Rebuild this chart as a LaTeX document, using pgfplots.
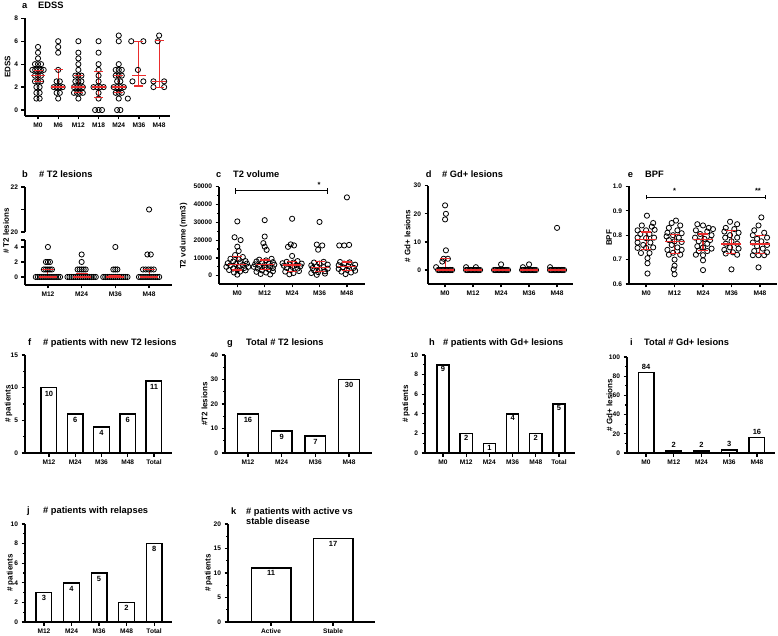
\documentclass[border=0pt]{standalone}
\usepackage{fontspec}
\setmainfont{Liberation Sans}
\usepackage{pgfplots}
\pgfplotsset{compat=1.18}
\definecolor{gpred}{RGB}{235,45,45}
\newcommand\tickf{\fontsize{6.6}{8}\selectfont\bfseries}
\newcommand\labf{\fontsize{8}{9}\selectfont\bfseries}
\newcommand\titf{\fontsize{9.3}{11}\selectfont\bfseries}
\newcommand\numf{\fontsize{7.5}{8}\selectfont\bfseries}
\pgfplotsset{
 gp/.style={scale only axis, axis x line*=bottom, axis y line*=left,
  axis line style={line width=1.4pt},
  tick style={line width=1.2pt, black}, tick align=outside,
  major tick length=3.5pt, minor tick length=2pt,
  tick label style={font=\tickf},
  /pgf/number format/assume math mode=true, /pgf/number format/1000 sep={},
  clip=false, anchor=south west},
 pts/.style={only marks, mark=o, mark size=2.6pt, mark options={line width=0.8pt, draw=black}},
 med/.style={only marks, mark=-, mark size=#1, mark options={line width=1.3pt, draw=gpred},
  error bars/.cd, y dir=both, y explicit, error mark=none,
  error bar style={line width=1.1pt, draw=gpred}},
 caps/.style={only marks, mark=-, mark size=#1, mark options={line width=1.1pt, draw=gpred}},
 bars/.style={gp, ybar, bar shift=0pt, ymin=0, minor y tick num=1, nodes near coords,
  every node near coord/.append style={font=\numf, yshift=-12.5pt}},
 bar/.style={fill=white, draw=black, line width=1.4pt},
}
\begin{document}
\begin{tikzpicture}
\path[use as bounding box] (0pt,0pt) rectangle (778pt,635pt);

% ---------------- a EDSS
\begin{axis}[gp, at={(25pt,519pt)}, width=145pt, height=97.7pt,
  xmin=-0.645, xmax=6.54, ymin=-0.52, ymax=8, ytick={0,2,4,6,8},
  xtick={0,1,2,3,4,5,6}, xticklabels={M0,M6,M12,M18,M24,M36,M48}]
\addplot[pts] coordinates {
 (0,5.5)(0,5)(0,4.5)(-0.15,4)(0,4)(0.15,4)(-0.28,3.5)(-0.14,3.5)(0,3.5)(0.14,3.5)(0.28,3.5)
 (-0.15,3)(0,3)(0.15,3)(-0.15,2.5)(0,2.5)(0.15,2.5)(-0.08,2)(0.08,2)(-0.08,1.5)(0.08,1.5)
 (-0.08,1)(0.08,1)
 (1,6)(1,5.5)(1,5)(1,3.5)(0.92,2.5)(1.08,2.5)(0.78,2)(0.93,2)(1.07,2)(1.22,2)
 (0.92,1.5)(1.08,1.5)(1,1)
 (2,6)(2,5)(2,4.5)(2,4)(2,3.5)(1.85,3)(2,3)(2.15,3)(1.85,2.5)(2,2.5)(2.15,2.5)
 (1.78,2)(1.93,2)(2.07,2)(2.22,2)(1.78,1.5)(1.93,1.5)(2.07,1.5)(2.22,1.5)(2,1)
 (3,6)(3,5)(3,4)(3,3.5)(3,3)(3,2.5)(2.75,2)(2.92,2)(3.08,2)(3.25,2)(3,1.5)(3,1)
 (2.83,0)(3,0)(3.17,0)
 (4,6.5)(4,6)(4,4)(3.85,3.5)(4,3.5)(4.15,3.5)(3.85,3)(4,3)(4.15,3)(3.92,2.5)(4.08,2.5)
 (3.75,2)(3.92,2)(4.08,2)(4.25,2)(3.85,1.5)(4,1.5)(4.15,1.5)(4,1)(3.92,0)(4.08,0)
 (4.62,6)(5.22,6)(4.95,3.5)(4.68,2.5)(5.22,2.5)(4.45,1)
 (6,6.5)(5.93,6)(5.72,2.5)(6.25,2.5)(5.72,2)(6.25,2)
};
\addplot[med=7pt] coordinates {
 (0,3) += (0,0.48) -= (0,0.54)
 (1,2) += (0,1.5) -= (0,0)
 (2,2) += (0,1) -= (0,0.5)
 (3,2) += (0,1.35) -= (0,0.9)
 (4,2) += (0,1) -= (0,0.5)
 (5,3) += (0,3) -= (0,0.9)
 (6,2.5) += (0,3.6) -= (0,0.5)
};
\addplot[caps=4.5pt] coordinates {(0,2.46)(0,3.48)(1,2)(1,3.5)(2,1.5)(2,3)(3,1.1)(3,3.35)
 (4,1.5)(4,3)(5,2.1)(5,6)(6,2)(6,6.1)};
\end{axis}

% ---------------- b upper
\begin{axis}[gp, axis x line=none, at={(25pt,403pt)}, width=147pt, height=45pt,
  xmin=-0.68, xmax=3.68, ymin=20, ymax=22, ytick={20,21,22}, yticklabels={20,,22}]
\addplot[pts] coordinates {(3,21)};
\end{axis}
% ---------------- b lower
\begin{axis}[gp, at={(25pt,350pt)}, width=147pt, height=45pt,
  xmin=-0.68, xmax=3.68, ymin=-1.07, ymax=4.93, ytick={0,2,4},
  extra y ticks={4.93}, extra y tick labels={},
  xtick={0,1,2,3}, xticklabels={M12,M24,M36,M48}]
\addplot[pts] coordinates {
 (-0.36,0)(-0.3,0)(-0.24,0)(-0.18,0)(-0.12,0)(-0.06,0)(0,0)(0.06,0)(0.12,0)(0.18,0)(0.24,0)(0.3,0)(0.36,0)
 (0.58,0)(0.64,0)(0.7,0)(0.76,0)(0.82,0)(0.88,0)(0.94,0)(1.0,0)(1.06,0)(1.12,0)(1.18,0)(1.24,0)(1.3,0)(1.36,0)(1.42,0)
 (1.64,0)(1.7,0)(1.76,0)(1.82,0)(1.88,0)(1.94,0)(2.0,0)(2.06,0)(2.12,0)(2.18,0)(2.24,0)(2.3,0)(2.36,0)
 (2.7,0)(2.76,0)(2.82,0)(2.88,0)(2.94,0)(3.0,0)(3.06,0)(3.12,0)(3.18,0)(3.24,0)(3.3,0)
 (-0.12,1)(-0.06,1)(0,1)(0.06,1)(0.12,1)(0.88,1)(0.94,1)(1,1)(1.06,1)(1.12,1)
 (1.94,1)(2,1)(2.06,1)(2.82,1)(2.9,1)(2.98,1)(3.06,1)(3.14,1)
 (-0.06,2)(0,2)(0.06,2)(1,2)(1,3)(2.95,3)(3.05,3)(0,4)(2,4)
};
\addplot[med=9pt] coordinates {
 (0,0) += (0,1) -= (0,0)
 (1,0) += (0,0.5) -= (0,0)
 (2,0) += (0,0.25) -= (0,0)
 (3,0) += (0,1) -= (0,0)
};
\addplot[caps=6pt] coordinates {(0,1)(1,0.5)(2,0.25)(3,1)};
\end{axis}

% ---------------- c T2 volume
\begin{axis}[gp, at={(219pt,351pt)}, width=146pt, height=97.3pt,
  xmin=-0.668, xmax=4.66, ymin=-4660, ymax=50000,
  ytick={0,10000,20000,30000,40000,50000}, minor y tick num=1,
  scaled y ticks=false,
  xtick={0,1,2,3,4}, xticklabels={M0,M12,M24,M36,M48}]
\addplot[pts] coordinates {
 (0.0,30500)(-0.1,21600)(0.12,20000)(0.0,16300)(0.05,13900)(-0.08,11600)
 (0.2,10500)(-0.25,9500)(0.05,9200)(0.3,8200)(-0.15,8000)(0.1,7500)(-0.35,7000)(0.35,6800)
 (-0.05,6600)(0.2,6000)(-0.25,5800)(0.05,5200)(-0.4,5000)(0.4,5000)(0.25,4300)(-0.15,4000)
 (0.0,3500)(-0.3,3200)(0.3,3000)(0.1,2300)(-0.12,1800)(0.0,600)
 (1.0,31200)(1.0,22000)(0.95,18300)(1.0,16300)(1.07,14500)
 (1.25,9500)(0.8,9000)(1.05,8600)(0.7,8000)(1.3,7600)(0.9,7200)(1.15,6800)(0.65,6400)
 (1.35,6200)(1.0,6000)(0.8,5600)(1.2,5300)(0.6,5000)(1.0,4600)(1.3,4300)(0.75,4000)
 (1.15,3500)(0.9,3000)(1.3,2500)(0.7,2200)(1.05,1800)(0.85,1000)(1.2,700)
 (2.0,32000)(1.95,17600)(2.07,17000)(1.85,16200)(2.0,11100)
 (2.2,8200)(1.8,7800)(2.05,7400)(1.65,7000)(2.35,6800)(1.9,6400)(2.15,6000)(1.7,5600)
 (2.3,5300)(2.0,5000)(1.8,4400)(2.2,4000)(1.95,3200)(2.25,2600)(1.75,2300)(2.05,1500)(1.9,800)
 (3.0,30200)(2.9,17500)(3.1,17000)(2.95,14600)
 (3.15,7800)(2.8,7400)(3.0,6800)(3.3,6200)(2.7,5800)(2.9,5200)(3.15,4800)(2.75,4300)
 (3.3,4000)(3.0,3500)(2.8,3000)(3.2,2500)(2.95,2000)(2.7,1500)(3.2,1200)(2.9,500)
 (4.0,44000)(3.72,17000)(3.9,17000)(4.08,17300)
 (3.75,7700)(4.1,7500)(3.9,6800)(4.3,6200)(3.7,5900)(4.05,5300)(3.85,4800)(4.25,4400)
 (3.7,3800)(4.0,3300)(4.3,2800)(3.8,2300)(4.15,1800)(3.95,900)
};
\addplot[med=9pt] coordinates {
 (0,6400) += (0,4300) -= (0,3200)
 (1,6400) += (0,2400) -= (0,2800)
 (2,6000) += (0,2000) -= (0,3400)
 (3,4700) += (0,3200) -= (0,2450)
 (4,5000) += (0,2700) -= (0,2200)
};
\addplot[caps=5pt] coordinates {(0,3200)(0,10700)(1,3600)(1,8800)(2,2600)(2,8000)
 (3,2250)(3,7900)(4,2800)(4,7700)};
\addplot[black, line width=1pt] coordinates {(-0.06,47600)(3.28,47600)};
\addplot[black, line width=1pt] coordinates {(-0.06,45900)(-0.06,49300)};
\addplot[black, line width=1pt] coordinates {(3.28,45900)(3.28,49300)};
\node[font=\numf, anchor=south] at (axis cs:2.98,47800) {*};
\end{axis}

% ---------------- d Gd+ lesions
\begin{axis}[gp, at={(428pt,351pt)}, width=145pt, height=98.3pt,
  xmin=-0.61, xmax=4.57, ymin=-4.98, ymax=30, ytick={0,10,20,30},
  xtick={0,1,2,3,4}, xticklabels={M0,M12,M24,M36,M48}]
\addplot[pts] coordinates {
 (-0.25,0)(-0.2,0)(-0.15,0)(-0.1,0)(-0.05,0)(0,0)(0.05,0)(0.1,0)(0.15,0)(0.2,0)(0.25,0)
 (0.75,0)(0.8,0)(0.85,0)(0.9,0)(0.95,0)(1,0)(1.05,0)(1.1,0)(1.15,0)(1.2,0)(1.25,0)
 (1.75,0)(1.8,0)(1.85,0)(1.9,0)(1.95,0)(2,0)(2.05,0)(2.1,0)(2.15,0)(2.2,0)(2.25,0)
 (2.75,0)(2.8,0)(2.85,0)(2.9,0)(2.95,0)(3,0)(3.05,0)(3.1,0)(3.15,0)(3.2,0)(3.25,0)
 (3.75,0)(3.8,0)(3.85,0)(3.9,0)(3.95,0)(4,0)(4.05,0)(4.1,0)(4.15,0)(4.2,0)(4.25,0)
 (0,23)(0.03,20)(0,18)(0.03,7)(-0.05,4)(0.1,4)(-0.1,3)(-0.32,1)
 (0.75,1)(1.1,1)(2,2)(2.78,1)(3.0,2)(4,15)(3.75,1)
};
\addplot[med=9pt] coordinates {
 (0,0) += (0,4) -= (0,0)
 (1,0) += (0,0) -= (0,0)
 (2,0) += (0,0) -= (0,0)
 (3,0) += (0,0) -= (0,0)
 (4,0) += (0,0) -= (0,0)
};
\addplot[caps=5pt] coordinates {(0,4)};
\end{axis}

% ---------------- e BPF
\begin{axis}[gp, at={(629pt,351pt)}, width=148pt, height=97.6pt,
  xmin=-0.6, xmax=4.6, ymin=0.6, ymax=1.0, ytick={0.6,0.7,0.8,0.9,1.0},
  yticklabel style={/pgf/number format/.cd, fixed, fixed zerofill, precision=1},
  xtick={0,1,2,3,4}, xticklabels={M0,M12,M24,M36,M48}]
\addplot[pts] coordinates {
 (0.03,0.88)(0.25,0.85)(-0.15,0.84)(0.2,0.835)(-0.3,0.82)(0,0.82)(0.3,0.822)(-0.2,0.805)
 (0.12,0.805)(-0.3,0.79)(0,0.788)(0.28,0.79)(-0.3,0.77)(0.15,0.77)(-0.1,0.76)(-0.3,0.748)
 (0,0.748)(0.25,0.75)(-0.18,0.727)(0.12,0.727)(0.05,0.706)(0.05,0.685)(0.05,0.643)
 (1.05,0.86)(0.9,0.85)(1.2,0.84)(0.8,0.83)(1.1,0.82)(0.75,0.81)(1.25,0.808)(0.95,0.80)
 (0.72,0.795)(1.15,0.79)(0.8,0.78)(1.0,0.775)(1.25,0.772)(0.9,0.76)(1.1,0.75)(0.75,0.74)
 (1.25,0.74)(0.95,0.728)(1.2,0.72)(0.8,0.72)(1.0,0.70)(1.0,0.675)(0.97,0.66)(1.0,0.64)
 (1.8,0.845)(2.0,0.84)(2.2,0.83)(2.35,0.825)(1.75,0.82)(2.15,0.815)(1.9,0.805)(2.3,0.80)
 (1.72,0.79)(2.05,0.785)(2.25,0.78)(1.85,0.775)(2.15,0.765)(1.8,0.755)(2.0,0.75)(2.3,0.745)
 (1.85,0.735)(2.15,0.735)(1.75,0.72)(2.0,0.718)(2.0,0.697)(2.0,0.657)
 (2.95,0.855)(3.2,0.845)(2.8,0.83)(3.1,0.825)(2.75,0.815)(3.25,0.81)(2.95,0.80)(2.78,0.79)
 (3.2,0.79)(3.0,0.775)(2.8,0.765)(3.2,0.765)(2.95,0.75)(3.25,0.745)(2.75,0.74)(3.05,0.73)
 (2.8,0.725)(3.2,0.72)(3.0,0.66)
 (4.05,0.873)(3.95,0.84)(3.8,0.82)(4.15,0.81)(3.75,0.80)(4.25,0.79)(3.9,0.785)(4.05,0.775)
 (3.75,0.77)(4.25,0.76)(3.9,0.755)(4.1,0.745)(3.8,0.735)(4.25,0.73)(3.75,0.718)(3.95,0.718)
 (4.15,0.718)(3.95,0.668)
};
\addplot[med=10pt] coordinates {
 (0,0.781) += (0,0.032) -= (0,0.038)
 (1,0.775) += (0,0.028) -= (0,0.051)
 (2,0.781) += (0,0.024) -= (0,0.045)
 (3,0.764) += (0,0.056) -= (0,0.04)
 (4,0.764) += (0,0.036) -= (0,0.04)
};
\addplot[caps=5pt] coordinates {(0,0.743)(0,0.813)(1,0.724)(1,0.803)(2,0.736)(2,0.805)
 (3,0.724)(3,0.82)(4,0.724)(4,0.80)};
\addplot[black, line width=1pt] coordinates {(0,0.955)(4.2,0.955)};
\addplot[black, line width=1pt] coordinates {(0,0.947)(0,0.963)};
\addplot[black, line width=1pt] coordinates {(4.2,0.947)(4.2,0.963)};
\node[font=\numf, anchor=south] at (axis cs:1,0.956) {*};
\node[font=\numf, anchor=south] at (axis cs:3.93,0.956) {**};
\end{axis}

% ---------------- f
\begin{axis}[bars, at={(25pt,182pt)}, width=147pt, height=98pt, bar width=15.6pt,
  xmin=-0.914, xmax=4.686, ymax=15, ytick={0,5,10,15},
  xtick={0,1,2,3,4}, xticklabels={M12,M24,M36,M48,Total}]
\addplot[bar] coordinates {(0,10)(1,6)(2,4)(3,6)(4,11)};
\end{axis}
% ---------------- g
\begin{axis}[bars, at={(225pt,182pt)}, width=147pt, height=98pt, bar width=20.6pt,
  xmin=-0.683, xmax=3.683, ymax=40, ytick={0,10,20,30,40},
  xtick={0,1,2,3}, xticklabels={M12,M24,M36,M48}]
\addplot[bar] coordinates {(0,16)(1,9)(2,7)(3,30)};
\end{axis}
% ---------------- h
\begin{axis}[bars, at={(425pt,182pt)}, width=150pt, height=98pt, bar width=12.1pt,
  every node near coord/.append style={yshift=1.5pt},
  xmin=-0.776, xmax=5.69, ymax=10, ytick={0,2,4,6,8,10},
  xtick={0,1,2,3,4,5}, xticklabels={M0,M12,M24,M36,M48,Total}]
\addplot[bar] coordinates {(0,9)(1,2)(2,1)(3,4)(4,2)(5,5)};
\end{axis}
% ---------------- i
\begin{axis}[gp, ybar, bar shift=0pt, ymin=0, minor y tick num=1, nodes near coords,
  every node near coord/.append style={font=\numf, yshift=-0.8pt},
  at={(627pt,182pt)}, width=148pt, height=96pt, bar width=15.6pt,
  xmin=-0.685, xmax=4.65, ymax=100, ytick={0,20,40,60,80,100},
  xtick={0,1,2,3,4}, xticklabels={M0,M12,M24,M36,M48}]
\addplot[bar] coordinates {(0,84)(1,2)(2,2)(3,3)(4,16)};
\end{axis}
% ---------------- j
\begin{axis}[bars, at={(25pt,13pt)}, width=147pt, height=98pt, bar width=15.6pt,
  xmin=-0.69, xmax=4.65, ymax=10, ytick={0,2,4,6,8,10},
  xtick={0,1,2,3,4}, xticklabels={M12,M24,M36,M48,Total}]
\addplot[bar] coordinates {(0,3)(1,4)(2,5)(3,2)(4,8)};
\end{axis}
% ---------------- k
\begin{axis}[bars, at={(228pt,13pt)}, width=147pt, height=98pt, bar width=39.6pt,
  every node near coord/.append style={yshift=1pt},
  xmin=-0.694, xmax=1.677, ymax=20, ytick={0,5,10,15,20},
  xtick={0,1}, xticklabels={Active,Stable}]
\addplot[bar] coordinates {(0,11)(1,17)};
\end{axis}

% ---------------- titles
\begin{scope}[every node/.style={anchor=base west, font=\titf, inner sep=0pt}]
\node at (22pt,626pt) {a}; \node at (38pt,626pt) {EDSS};
\node at (22pt,457.3pt) {b}; \node at (39pt,457.3pt) {\# T2 lesions};
\node at (216pt,457.3pt) {c}; \node at (233pt,457.3pt) {T2 volume};
\node at (425.7pt,457.3pt) {d}; \node at (442pt,457.3pt) {\# Gd+ lesions};
\node at (627.7pt,457.3pt) {e}; \node at (645pt,457.3pt) {BPF};
\node at (28pt,290pt) {f}; \node at (43pt,290pt) {\# patients with new T2 lesions};
\node at (227pt,290pt) {g}; \node at (246pt,290pt) {Total \# T2 lesions};
\node at (429pt,290pt) {h}; \node at (443pt,290pt) {\# patients with Gd+ lesions};
\node at (630pt,290pt) {i}; \node at (644pt,290pt) {Total \# Gd+ lesions};
\node at (27pt,122pt) {j}; \node at (43pt,122pt) {\# patients with relapses};
\node at (231pt,121pt) {k}; \node at (246pt,121pt) {\# patients with active vs};
\node at (246pt,110.7pt) {stable disease};
\end{scope}
% ---------------- y labels
\begin{scope}[every node/.style={rotate=90, font=\labf, inner sep=0pt, anchor=center}]
\node at (7.5pt,568pt) {EDSS};
\node at (6pt,404pt) {\# T2 lesions};
\node at (183.5pt,399pt) {T2 volume (mm3)};
\node at (407.5pt,399pt) {\# Gd+ lesions};
\node at (609pt,397pt) {BPF};
\node at (8.5pt,231pt) {\# patients};
\node at (204.5pt,231pt) {\#T2 lesions};
\node at (406pt,231pt) {\# patients};
\node at (609.5pt,230pt) {\# Gd+ lesions};
\node at (10.5pt,62pt) {\# patients};
\node at (208.5pt,62pt) {\# patients};
\end{scope}
\end{tikzpicture}
\end{document}
